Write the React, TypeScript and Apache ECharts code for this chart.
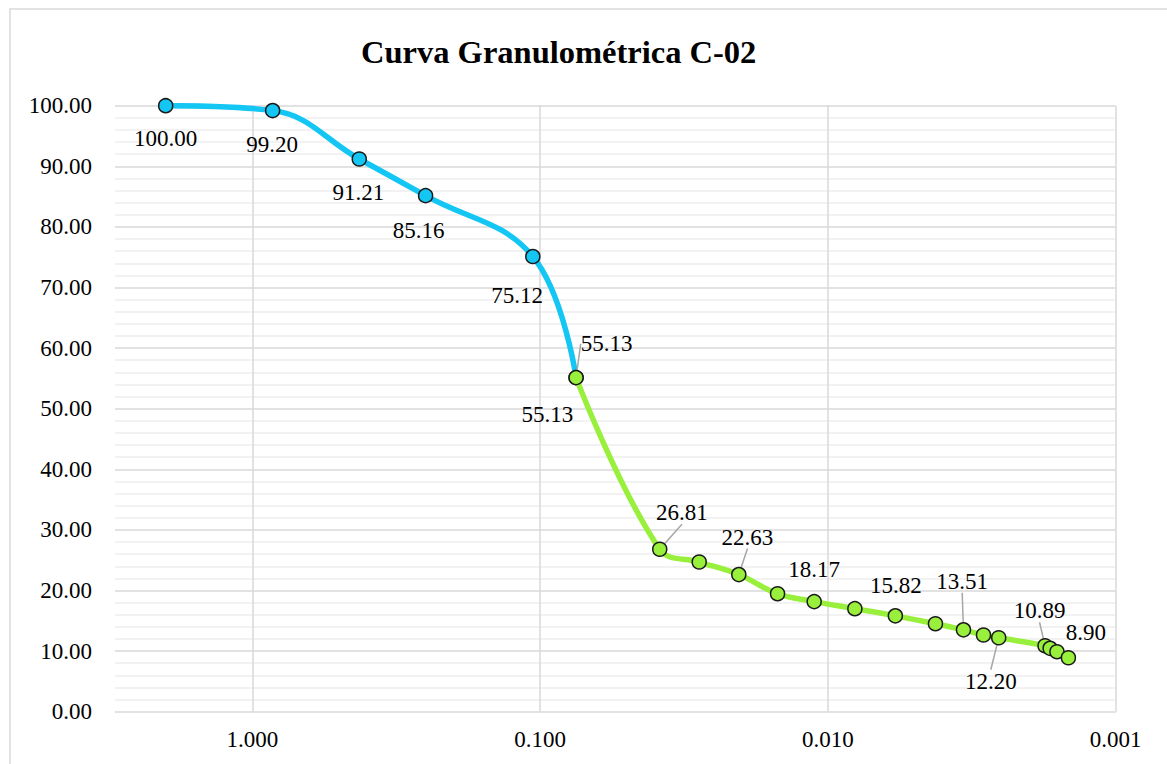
import React, { useEffect, useRef } from "react";
import * as echarts from "echarts";

// ---- data ----
const titleText = "Curva Granulométrica C-02";
const sieveSizes = [2.0, 0.85, 0.425, 0.25, 0.106, 0.075];
const sievePassing = [100.0, 99.2, 91.21, 85.16, 75.12, 55.13];
const hydroSizes = [0.075, 0.0384, 0.028, 0.0204, 0.01496, 0.01116, 0.00806, 0.00583, 0.00423, 0.00338, 0.00288, 0.00255, 0.00176, 0.00169, 0.0016, 0.00146];
const hydroPassing = [55.13, 26.81, 24.7, 22.63, 19.47, 18.17, 17.0, 15.82, 14.52, 13.51, 12.66, 12.2, 10.89, 10.46, 9.9, 8.9];
const hydroLabelled = [true, true, false, true, false, true, false, true, false, true, false, true, true, false, false, true];
const hydroLeader = [true, true, false, true, false, false, false, false, false, true, false, true, true, false, false, false];
const xMin = 0.001;
const xMax = 3;
const yMin = 0;
const yMax = 100;
const yStep = 10;

// ---- label offsets (style) ----
const sieveLabelOffsets: [number, number][] = [
  [0, 32.5], [-0.6, 34.4], [-1, 34], [-7, 34.6], [-15.6, 39.5], [-28.7, 36.5],
];
const hydroLabelOffsets: Record<number, [number, number]> = {
  0: [30.5, -33.7], 1: [22.2, -36.5], 3: [8.7, -37.5], 5: [0, -32], 7: [0.5, -30.5],
  9: [-1.3, -48.5], 11: [-7.9, 43.5], 12: [-5.5, -35], 15: [17.5, -25.7],
};

const FONT = "Liberation Serif";
const BLUE = "#14C6F3";
const GREEN = "#98F03C";

export default function App() {
  const ref = useRef<HTMLDivElement>(null);
  useEffect(() => {
    if (!ref.current) return;
    const chart = echarts.init(ref.current, null, { renderer: "svg" });
    const labelBase = {
      show: true,
      position: "inside",
      align: "center",
      verticalAlign: "middle",
      color: "#000",
      fontFamily: FONT,
      fontSize: 23,
      textBorderWidth: 0,
      formatter: (p: any) => Number(p.value[1]).toFixed(2),
    };
    const sieveData = sieveSizes.map((x, i) => ({ value: [x, sievePassing[i]] }));
    const hydroData = hydroSizes.map((x, i) => ({
      value: [x, hydroPassing[i]],
      label: { show: hydroLabelled[i] },
      labelLine: { show: hydroLeader[i] },
    }));
    const option: any = {
      animation: false,
      backgroundColor: "#fff",
      title: {
        text: titleText,
        left: 356,
        top: 30,
        textStyle: { fontFamily: FONT, fontSize: 32.5, fontWeight: "bold", color: "#000" },
      },
      graphic: [
        {
          type: "rect",
          shape: { x: 10, y: 9, width: 1400, height: 900 },
          style: { fill: "none", stroke: "#d9d9d9", lineWidth: 1.5 },
          silent: true,
          z: -1,
        },
      ],
      grid: { left: 115, right: 51.3, top: 105.7, bottom: 52.3, containLabel: false, outerBoundsMode: "none" },
      xAxis: {
        type: "log",
        logBase: 10,
        inverse: true,
        min: xMin,
        max: xMax,
        axisLine: { show: false },
        axisTick: { show: false },
        axisLabel: {
          fontFamily: FONT,
          fontSize: 23,
          color: "#000",
          margin: 16,
          showMaxLabel: false,
          formatter: (v: number) => {
            const l = Math.log10(v);
            return Math.abs(l - Math.round(l)) < 1e-6 ? v.toFixed(3) : "";
          },
        },
        splitLine: { show: true, showMaxLine: false, lineStyle: { color: "#d9d9d9", width: 1.5 } },
      },
      yAxis: {
        type: "value",
        min: yMin,
        max: yMax,
        interval: yStep,
        axisLine: { show: false },
        axisTick: { show: false },
        axisLabel: {
          fontFamily: FONT,
          fontSize: 23,
          color: "#000",
          margin: 23,
          formatter: (v: number) => v.toFixed(2),
        },
        splitLine: { show: true, lineStyle: { color: "#d9d9d9", width: 1.5 } },
        minorTick: { show: false, splitNumber: 5 },
        minorSplitLine: { show: true, lineStyle: { color: "#eeeeee", width: 1.5 } },
      },
      series: [
        {
          type: "line",
          data: sieveData,
          smooth: 0.4,
          symbol: "circle",
          symbolSize: 14,
          lineStyle: { color: BLUE, width: 5.5 },
          itemStyle: { color: BLUE, borderColor: "#1a1a1a", borderWidth: 1.5 },
          label: labelBase,
          labelLayout: (p: any) => {
            const o = sieveLabelOffsets[p.dataIndex] || [0, 0];
            return { dx: o[0], dy: o[1] };
          },
          z: 2,
        },
        {
          type: "line",
          data: hydroData,
          smooth: 0.4,
          symbol: "circle",
          symbolSize: 14,
          lineStyle: { color: GREEN, width: 5.5 },
          itemStyle: { color: GREEN, borderColor: "#1a1a1a", borderWidth: 1.5 },
          label: labelBase,
          labelLine: { show: false, lineStyle: { color: "#a6a6a6", width: 1.5 } },
          labelLayout: (p: any) => {
            const o = hydroLabelOffsets[p.dataIndex] || [0, 0];
            return { dx: o[0], dy: o[1] };
          },
          z: 3,
        },
      ],
    };
    chart.setOption(option);
    return () => chart.dispose();
  }, []);
  return (
    <div
      ref={ref}
      style={{ position: "absolute", left: 0, top: 0, width: 1167, height: 764 }}
    />
  );
}
